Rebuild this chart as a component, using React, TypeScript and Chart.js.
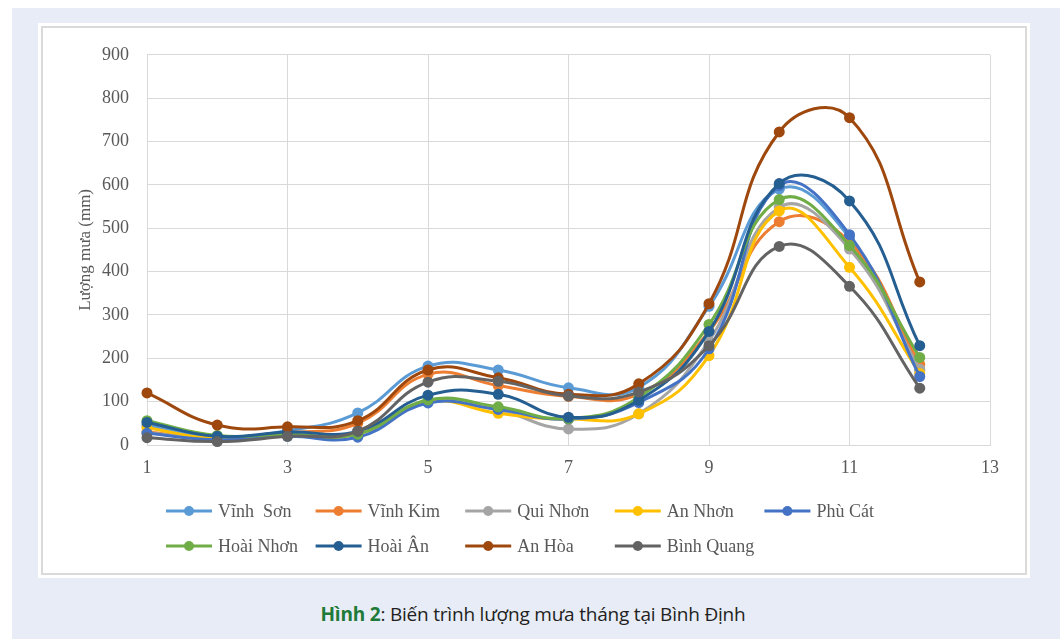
import React, { useEffect, useRef } from "react";
import { Chart, registerables } from "chart.js";

Chart.register(...registerables);

const months = [1, 2, 3, 4, 5, 6, 7, 8, 9, 10, 11, 12];
const stations = [
  "Vĩnh  Sơn",
  "Vĩnh Kim",
  "Qui Nhơn",
  "An Nhơn",
  "Phù Cát",
  "Hoài Nhơn",
  "Hoài Ân",
  "An Hòa",
  "Bình Quang",
];
const colors = [
  "#5B9BD5",
  "#ED7D31",
  "#A5A5A5",
  "#FFC000",
  "#4472C4",
  "#70AD47",
  "#255E91",
  "#9E480E",
  "#636363",
];

const vinhSon = [45, 20, 33, 74, 182, 173, 132, 133, 320, 590, 478, 172];
const vinhKim = [30, 15, 28, 50, 163, 137, 112, 118, 262, 515, 468, 186];
const quiNhon = [28, 14, 22, 28, 100, 80, 37, 72, 240, 548, 452, 175];
const anNhon = [40, 14, 22, 25, 100, 73, 60, 72, 206, 540, 410, 165];
const phuCat = [27, 12, 20, 18, 97, 82, 60, 98, 222, 598, 485, 158];
const hoaiNhon = [56, 22, 25, 25, 104, 88, 61, 110, 278, 566, 460, 202];
const hoaiAn = [52, 20, 30, 32, 115, 117, 64, 103, 262, 603, 563, 229];
const anHoa = [120, 46, 42, 56, 173, 155, 117, 141, 326, 722, 755, 376];
const binhQuang = [17, 8, 20, 32, 145, 147, 113, 122, 229, 458, 366, 131];

const seriesValues = [vinhSon, vinhKim, quiNhon, anNhon, phuCat, hoaiNhon, hoaiAn, anHoa, binhQuang];

const xTicks = [1, 3, 5, 7, 9, 11, 13];
const yTicks = [0, 100, 200, 300, 400, 500, 600, 700, 800, 900];

const SERIF = '"Liberation Serif", "Times New Roman", serif';
const TEXT = "#595959";

const gridLegend = {
  id: "gridLegend",
  afterDraw(chart: any) {
    const { ctx, chartArea } = chart;
    ctx.save();
    const cols = 5;
    stations.forEach((name, i) => {
      const col = i % cols;
      const row = Math.floor(i / cols);
      const x0 = chartArea.left + 19 + col * 149.6;
      const y = chartArea.bottom + 66 + row * 35;
      ctx.strokeStyle = colors[i];
      ctx.lineWidth = 3;
      ctx.beginPath();
      ctx.moveTo(x0, y);
      ctx.lineTo(x0 + 46, y);
      ctx.stroke();
      ctx.fillStyle = colors[i];
      ctx.beginPath();
      ctx.arc(x0 + 23, y, 5, 0, Math.PI * 2);
      ctx.fill();
      ctx.fillStyle = TEXT;
      ctx.font = `18px ${SERIF}`;
      ctx.textBaseline = "middle";
      ctx.textAlign = "left";
      ctx.fillText(name, x0 + 52, y + 1);
    });
    ctx.restore();
  },
};

export default function App() {
  const ref = useRef<HTMLCanvasElement | null>(null);

  useEffect(() => {
    if (!ref.current) return;
    const chart = new Chart(ref.current, {
      type: "line",
      data: {
        datasets: stations.map((name, i) => ({
          label: name,
          data: months.map((m, k) => ({ x: m, y: seriesValues[i][k] })),
          borderColor: colors[i],
          backgroundColor: colors[i],
          borderWidth: 3,
          pointRadius: 5.5,
          pointBorderWidth: 0,
          pointBackgroundColor: colors[i],
          tension: 0.45,
          clip: false as any,
          order: -i,
        })),
      },
      options: {
        animation: false,
        responsive: false,
        maintainAspectRatio: false,
        layout: { padding: { top: 26, right: 37, left: 0, bottom: 0 } },
        plugins: {
          legend: { display: false },
          tooltip: { enabled: false },
          title: { display: false },
        },
        scales: {
          x: {
            type: "linear",
            min: 1,
            max: 13,
            afterBuildTicks: (axis: any) => {
              axis.ticks = xTicks.map((v) => ({ value: v }));
            },
            afterFit: (axis: any) => {
              axis.height = 130;
            },
            grid: { color: "#D9D9D9", lineWidth: 1, drawTicks: false },
            border: { color: "#D9D9D9", width: 1 },
            ticks: {
              padding: 12,
              color: TEXT,
              font: { family: SERIF, size: 18 },
              maxRotation: 0,
              autoSkip: false,
            },
          },
          y: {
            type: "linear",
            min: 0,
            max: 900,
            afterBuildTicks: (axis: any) => {
              axis.ticks = yTicks.map((v) => ({ value: v }));
            },
            afterFit: (axis: any) => {
              axis.width = 106;
            },
            grid: { color: "#D9D9D9", lineWidth: 1, drawTicks: false },
            border: { color: "#D9D9D9", width: 1 },
            ticks: {
              padding: 18,
              color: TEXT,
              font: { family: SERIF, size: 18 },
            },
            title: {
              display: true,
              text: "Lượng mưa (mm)",
              color: TEXT,
              font: { family: SERIF, size: 17 },
              padding: { top: 34, bottom: 0 },
            },
          },
        },
      },
      plugins: [gridLegend],
    });
    return () => chart.destroy();
  }, []);

  return (
    <div
      style={{
        position: "absolute",
        left: 12,
        top: 8,
        width: 1048,
        height: 631,
        background: "#E8ECF7",
        overflow: "hidden",
      }}
    >
      <div
        style={{
          position: "absolute",
          left: 26,
          top: 15,
          width: 992,
          height: 555,
          background: "#FFFFFF",
        }}
      >
        <canvas
          ref={ref}
          width={986}
          height={549}
          style={{ position: "absolute", left: 3, top: 3, width: 986, height: 549 }}
        />
        <div
          style={{
            position: "absolute",
            left: 3,
            top: 3,
            width: 986,
            height: 549,
            boxSizing: "border-box",
            border: "2px solid #DADADA",
            pointerEvents: "none",
          }}
        />
      </div>
      <div
        style={{
          position: "absolute",
          left: 0,
          top: 592,
          width: 1042,
          height: 28,
          lineHeight: "28px",
          textAlign: "center",
          fontFamily: '"Open Sans", "Noto Sans", sans-serif',
          fontSize: 19,
          letterSpacing: "-0.2px",
          color: "#231F20",
        }}
      >
        <span style={{ color: "#1E7A38", fontWeight: 700 }}>Hình 2</span>: Biến trình lượng mưa tháng tại Bình Định
      </div>
    </div>
  );
}
